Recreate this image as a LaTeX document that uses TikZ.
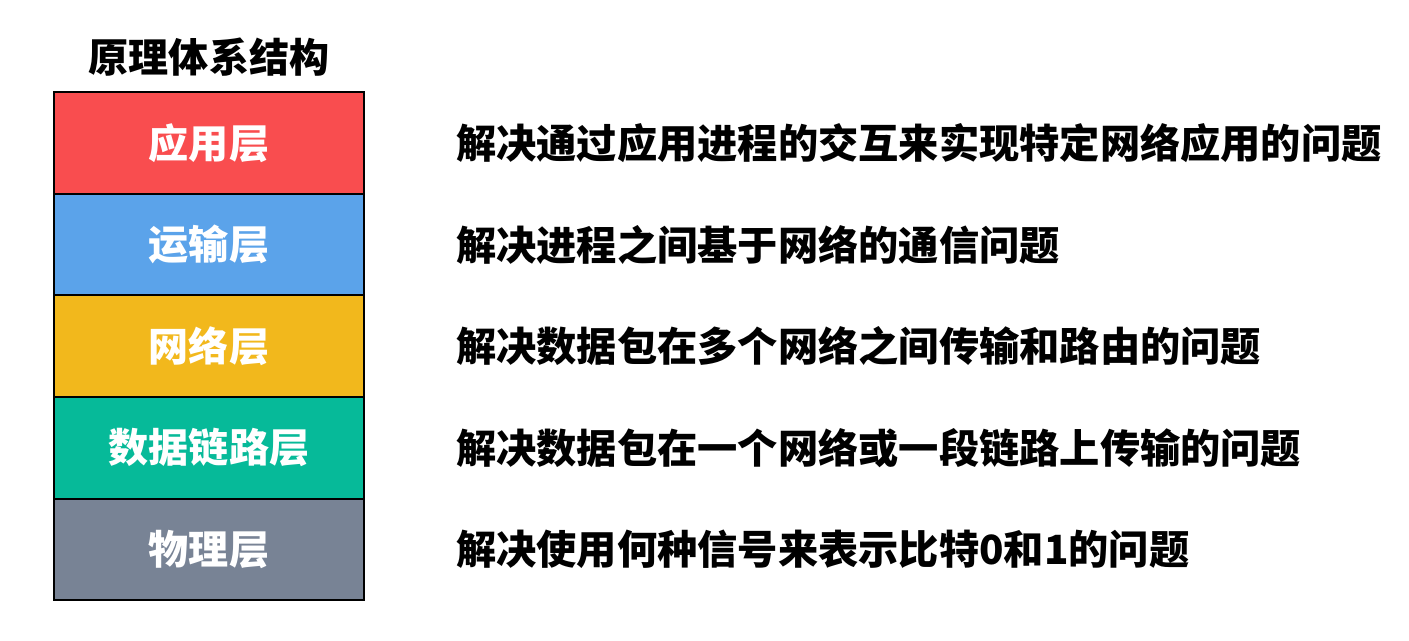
\documentclass[tikz,border=0pt]{standalone}
\usepackage{fontspec}
\newfontfamily\cjk{Noto Sans CJK SC}
\usetikzlibrary{positioning}

\definecolor{appred}{HTML}{F94D4F}
\definecolor{transblue}{HTML}{5BA3EA}
\definecolor{netyellow}{HTML}{F2B81C}
\definecolor{linkgreen}{HTML}{06BA99}
\definecolor{phygray}{HTML}{788395}

\tikzset{
  layerbox/.style={draw=black, line width=1.1pt, minimum width=6.2cm, minimum height=2.03cm,
    inner sep=0pt, text=white, font=\cjk\bfseries\fontsize{22.8pt}{26pt}\selectfont},
  desctext/.style={inner sep=0pt, anchor=west, text=black,
    font=\cjk\bfseries\fontsize{22.9pt}{26pt}\selectfont}
}

\begin{document}
\begin{tikzpicture}[x=0.02cm, y=-0.02cm]
        % Page size
        \useasboundingbox (0,0) rectangle (1409,641);

        % Title
        \node[inner sep=0pt, font=\cjk\bfseries\fontsize{22.8pt}{26pt}\selectfont] (title) at (209,57) {原理体系结构};

        % Layers and what they solve
        \foreach \name/\col/\lab/\desc [count=\i from 0] in {
            app/appred/应用层/解决通过应用进程的交互来实现特定网络应用的问题,
            trans/transblue/运输层/解决进程之间基于网络的通信问题,
            net/netyellow/网络层/解决数据包在多个网络之间传输和路由的问题,
            link/linkgreen/数据链路层/解决数据包在一个网络或一段链路上传输的问题,
            phy/phygray/物理层/解决使用何种信号来表示比特0和1的问题} {
            \node[layerbox, fill=\col] (\name) at (209,143+101.6*\i) {\lab};
            \node[desctext, right=1.82cm of \name] (\name desc) {\desc};
        }
    \end{tikzpicture}
\end{document}
